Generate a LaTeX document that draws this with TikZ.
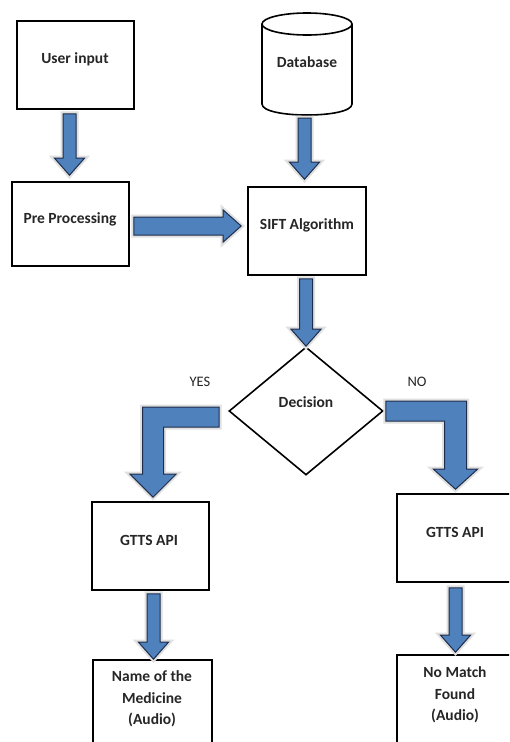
\documentclass[tikz,border=0pt]{standalone}
\usepackage{fontspec}
\setmainfont{Carlito}
\usetikzlibrary{calc,shapes.geometric}
\definecolor{arrowblue}{RGB}{79,129,189}
\definecolor{arrowedge}{RGB}{30,45,75}
\definecolor{inktext}{RGB}{38,38,38}
\tikzset{
  box/.style={draw=black, line width=1.6pt, fill=white, inner sep=0pt},
  boxtext/.style={font=\fontsize{15.5}{21.5}\selectfont\bfseries, text=inktext, align=center, inner sep=0pt},
  sidetext/.style={font=\fontsize{14.5}{16}\selectfont, text=inktext, inner sep=0pt},
  blockarrow/.style={fill=arrowblue, draw=arrowedge, line width=1pt, line join=miter,
    preaction={draw=black!12, line width=5pt, line join=miter}},
}
% straight block arrow pointing down: #1 start of the shaft, #2 tip
\newcommand\vblockarrow[2]{%
  \path[blockarrow] let \p1=#1, \p2=#2 in
    (\x2-6.5pt,\y1) -- (\x2+6.5pt,\y1) -- (\x2+6.5pt,\y2+17pt) -- (\x2+15pt,\y2+17pt)
    -- (\x2,\y2) -- (\x2-15pt,\y2+17pt) -- (\x2-6.5pt,\y2+17pt) -- cycle;}
% straight block arrow pointing right
\newcommand\hblockarrow[2]{%
  \path[blockarrow] let \p1=#1, \p2=#2 in
    (\x1,\y2+9pt) -- (\x2-18pt,\y2+9pt) -- (\x2-18pt,\y2+16pt) -- (\x2,\y2)
    -- (\x2-18pt,\y2-16pt) -- (\x2-18pt,\y2-9pt) -- (\x1,\y2-9pt) -- cycle;}
% bent block arrow: goes left, then down
\newcommand\elbowleft[2]{%
  \path[blockarrow] let \p1=#1, \p2=#2 in
    (\x1,\y1+10pt) -- (\x2-10.5pt,\y1+10pt) -- (\x2-10.5pt,\y2+23pt) -- (\x2-23pt,\y2+23pt)
    -- (\x2,\y2) -- (\x2+23pt,\y2+23pt) -- (\x2+10.5pt,\y2+23pt) -- (\x2+10.5pt,\y1-10pt)
    -- (\x1,\y1-10pt) -- cycle;}
% bent block arrow: goes right, then down
\newcommand\elbowright[2]{%
  \path[blockarrow] let \p1=#1, \p2=#2 in
    (\x1,\y1+10pt) -- (\x2+11pt,\y1+10pt) -- (\x2+11pt,\y2+20pt) -- (\x2+22pt,\y2+20pt)
    -- (\x2,\y2) -- (\x2-22pt,\y2+20pt) -- (\x2-11pt,\y2+20pt) -- (\x2-11pt,\y1-10pt)
    -- (\x1,\y1-10pt) -- cycle;}

\begin{document}
\begin{tikzpicture}[x=1pt,y=-1pt]
\useasboundingbox (0,0) rectangle (509,742);
\clip (0,0) rectangle (509,742);
\fill[white] (0,0) rectangle (509,742);

% boxes
\node[box, minimum width=117pt, minimum height=88pt] (ui) at (75.5,65) {};
\node[boxtext] (uit) at (75,59) {User input};
\node[box, minimum width=117pt, minimum height=84pt] (pp) at (70.5,224) {};
\node[boxtext] (ppt) at (70,219) {Pre Processing};

% database cylinder
\node[minimum width=90pt, minimum height=102pt, inner sep=0pt, outer sep=0pt] (db) at (307,64) {};
\fill[white] ($(db.north west)+(0,11)$) -- ($(db.south west)+(0,-11)$)
  .. controls ($(db.south west)+(0,3.7)$) and ($(db.south east)+(0,3.7)$) .. ($(db.south east)+(0,-11)$)
  -- ($(db.north east)+(0,11)$) -- cycle;
\draw[line width=1.6pt] ($(db.north west)+(0,11)$) -- ($(db.south west)+(0,-11)$)
  .. controls ($(db.south west)+(0,3.7)$) and ($(db.south east)+(0,3.7)$) .. ($(db.south east)+(0,-11)$)
  -- ($(db.north east)+(0,11)$);
\draw[line width=1.6pt, fill=white] ($(db.north)+(0,11)$) ellipse [x radius=45pt, y radius=11pt];
\node[boxtext] (dbt) at (307,62) {Database};

\node[box, minimum width=118pt, minimum height=88pt] (sift) at (307,231) {};
\node[boxtext] (siftt) at (307,225) {SIFT Algorithm};

\node[box, diamond, minimum width=154pt, minimum height=128pt] (dec) at (306,411) {};
\node[boxtext] (dect) at (306,402) {Decision};
\node[sidetext] (yes) at (200,382) {YES};
\node[sidetext] (no) at (417,382) {NO};

\node[box, minimum width=117pt, minimum height=88pt] (gl) at (150.5,546) {};
\node[boxtext] (glt) at (149,540) {GTTS API};
\node[box, minimum width=117pt, minimum height=88pt] (gr) at (455.5,538) {};
\node[boxtext] (grt) at (455,532) {GTTS API};

\node[box, minimum width=119pt, minimum height=110pt] (nm) at (152.5,715) {};
\node[boxtext] (nmt) at (152,699) {Name of the\\Medicine\\(Audio)};
\node[box, minimum width=117pt, minimum height=115pt] (nf) at (455.5,712.5) {};
\node[boxtext] (nft) at (455,695) {No Match\\Found\\(Audio)};

% block arrows
\vblockarrow{($(ui.south)+(-6,4)$)}{($(pp.north)+(-1,-6)$)}
\vblockarrow{($(db.south)+(0,3)$)}{($(sift.north)+(-2.5,-7)$)}
\vblockarrow{($(sift.south)+(0,3)$)}{(dec.north)}
\hblockarrow{($(pp.east)+(4,0)$)}{($(sift.west)+(-6,-5)$)}
\elbowleft{($(dec.west)+(-9,6)$)}{($(gl.north)+(2.5,-4)$)}
\elbowright{($(dec.east)+(2,0)$)}{($(gr.north)+(0,-4)$)}
\vblockarrow{($(gl.south)+(0,3)$)}{($(nm.north)+(1,0)$)}
\vblockarrow{($(gr.south)+(0,5)$)}{($(nf.north)+(0,-2)$)}
\end{tikzpicture}
\end{document}
